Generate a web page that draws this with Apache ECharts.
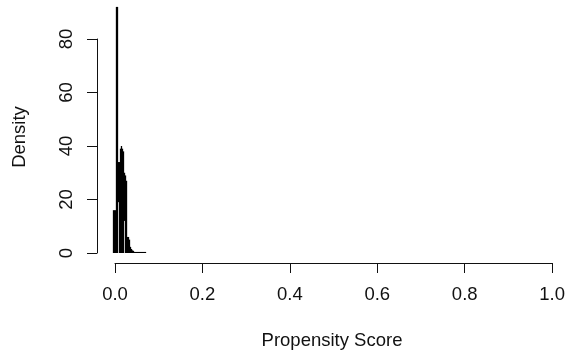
<!DOCTYPE html>
<html>
<head>
<meta charset="utf-8">
<script src="https://cdn.jsdelivr.net/npm/echarts@6/dist/echarts.min.js"></script>
<style>
  html, body { margin: 0; padding: 0; background: #fff; }
  #chart { width: 568px; height: 358px; }
</style>
</head>
<body>
<div id="chart"></div>
<script>
// Density of the estimated propensity scores. The estimate oscillates very
// quickly, so over each small score interval the curve sweeps between a
// trough and a peak: both are kept per interval.
const scoreGrid = [
  -0.0034, -0.0011, 0.0011, 0.0034, 0.0057, 0.0080, 0.0103, 0.0126,
  0.0148, 0.0171, 0.0194, 0.0217, 0.0240, 0.0263, 0.0285, 0.0308,
  0.0331, 0.0354, 0.0377, 0.0400, 0.0422, 0.0445, 0.0468, 0.0491,
  0.0514, 0.0537, 0.0559, 0.0582, 0.0605, 0.0628, 0.0651, 0.0674,
  0.0696
];
const densityPeak = [
  16, 16, 16, 92, 92, 34, 34, 39,
  40, 39, 38, 30, 29, 27, 6, 6,
  5, 2.3, 1.5, 1, 0.8, 0.4, 0.4, 0.4,
  0.4, 0.4, 0.4, 0.4, 0.4, 0.4, 0.4, 0.4,
  0.4
];
const densityTrough = [
  0, 0, 0, 0, 0, 19, 0, 0,
  0, 0, 0, 12, 0, 0, 0, 0,
  0, 0, 0, 0, 0, 0, 0, 0,
  0, 0, 0, 0, 0, 0, 0, 0,
  0
];
const xTicks = [0, 0.2, 0.4, 0.6, 0.8, 1.0];
const yTicks = [0, 20, 40, 60, 80];
const xTitle = 'Propensity Score';
const yTitle = 'Density';

// Layout: both grids share the same pixel scale (2.675 px per density unit)
const plotLeft = 115, plotWidth = 438, plotBottom = 105;
const pxPerUnit = 214 / 80;
const dataTop = 5;
const dataMax = (358 - plotBottom - dataTop) / pxPerUnit;
const sweepWidth = 1.3; // px covered by each interval's sweep

const font = '"Liberation Sans", Arial, sans-serif';
const fontSize = 18.5;
const ink = '#111';

const chart = echarts.init(document.getElementById('chart'), null, { renderer: 'canvas' });

chart.setOption({
  animation: false,
  backgroundColor: '#fff',
  grid: [
    { left: plotLeft, width: plotWidth, top: 39, bottom: plotBottom },
    { left: plotLeft, width: plotWidth, top: dataTop, bottom: plotBottom }
  ],
  xAxis: [
    {
      gridIndex: 0, type: 'value',
      min: xTicks[0], max: xTicks[xTicks.length - 1], interval: 0.2,
      offset: 10,
      axisLine: { show: true, onZero: false, lineStyle: { color: ink, width: 1 } },
      axisTick: { show: true, length: 10, lineStyle: { color: ink, width: 1 } },
      splitLine: { show: false },
      axisLabel: {
        margin: 22, color: ink, fontFamily: font, fontSize: fontSize,
        formatter: v => v.toFixed(1)
      }
    },
    {
      gridIndex: 1, type: 'value',
      min: xTicks[0], max: xTicks[xTicks.length - 1],
      show: false
    }
  ],
  yAxis: [
    {
      gridIndex: 0, type: 'value',
      min: yTicks[0], max: yTicks[yTicks.length - 1], interval: 20,
      offset: 18,
      axisLine: { show: true, onZero: false, lineStyle: { color: ink, width: 1 } },
      axisTick: { show: true, length: 10, lineStyle: { color: ink, width: 1 } },
      splitLine: { show: false },
      axisLabel: {
        rotate: 90, margin: 21, color: ink, fontFamily: font, fontSize: fontSize
      }
    },
    {
      gridIndex: 1, type: 'value',
      min: 0, max: dataMax,
      show: false
    }
  ],
  series: [
    {
      type: 'custom',
      xAxisIndex: 1, yAxisIndex: 1,
      clip: false,
      data: scoreGrid.map((x, i) => [x, densityTrough[i], densityPeak[i]]),
      renderItem: function (params, api) {
        const lo = api.coord([api.value(0), api.value(1)]);
        const hi = api.coord([api.value(0), api.value(2)]);
        return {
          type: 'rect',
          shape: {
            x: lo[0] - sweepWidth / 2,
            y: hi[1],
            width: sweepWidth,
            height: lo[1] - hi[1]
          },
          style: { fill: '#000' }
        };
      }
    }
  ],
  graphic: [
    {
      type: 'text',
      x: 332, y: 341,
      style: {
        text: xTitle, fill: ink, font: fontSize + 'px ' + font,
        textAlign: 'center', textVerticalAlign: 'middle'
      }
    },
    {
      type: 'text',
      x: 20, y: 137, rotation: Math.PI / 2,
      style: {
        text: yTitle, fill: ink, font: fontSize + 'px ' + font,
        textAlign: 'center', textVerticalAlign: 'middle'
      }
    }
  ]
});
</script>
</body>
</html>
